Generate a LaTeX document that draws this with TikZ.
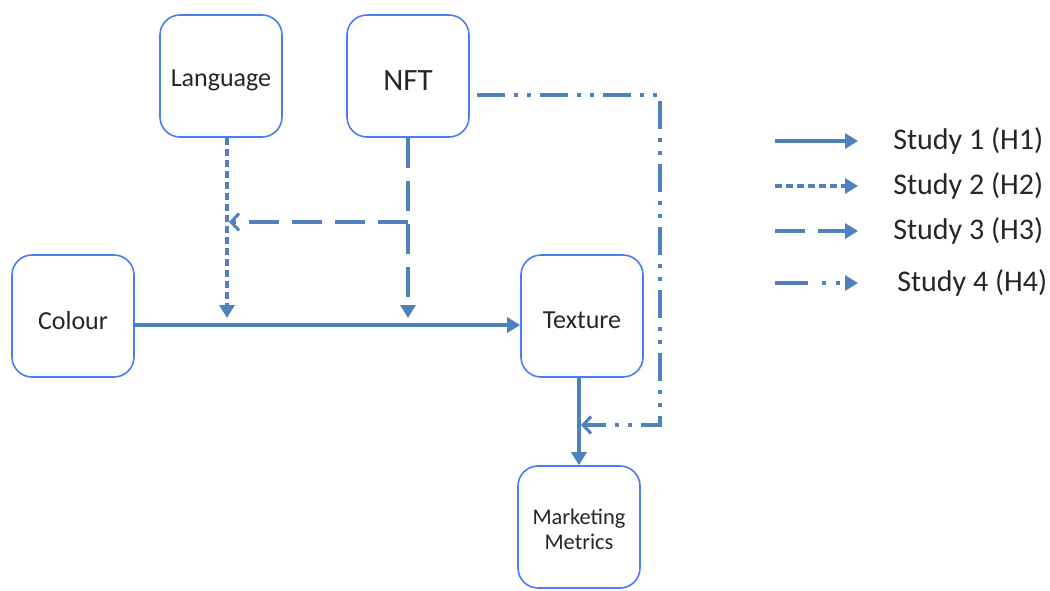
\documentclass[tikz,border=0pt]{standalone}
\usepackage{fontspec}
\setmainfont{Carlito}
\usetikzlibrary{arrows.meta,calc}
\definecolor{linkblue}{HTML}{4F81BD}
\definecolor{boxblue}{HTML}{4A7CF2}
\definecolor{inktext}{HTML}{262626}
% shift a label down without changing its reported size
\newcommand{\lowered}[1]{\raisebox{-2.2pt}[\height][\depth]{#1}}
\tikzset{
  box/.style={draw=boxblue, line width=0.8pt, rounded corners=10pt,
    minimum width=61pt, minimum height=61pt, inner sep=0pt,
    align=center, fill=white, text=inktext,
    font=\fontsize{13}{15.5}\selectfont},
  link/.style={draw=linkblue, line width=1.7pt},
  sone/.style={link},
  stwo/.style={link, dash pattern=on 3.5pt off 2pt},
  sthree/.style={link, dash pattern=on 15pt off 6.5pt},
  sfour/.style={link, dash pattern=on 14pt off 4.5pt on 2pt off 4.5pt on 2pt off 4.5pt},
  tri/.style={-{Triangle[length=6.5pt,width=7.5pt]}},
  barb/.style={-{Straight Barb[length=4pt,width=8.5pt,line width=1.5pt]}},
  legtext/.style={anchor=west, text=inktext, font=\fontsize{15}{18}\selectfont, inner sep=0pt},
}
\begin{document}
\begin{tikzpicture}[x=0.5pt,y=-0.5pt]
\useasboundingbox (0,0) rectangle (1050,590);

% variables
\node[box] (lang) at (221,76) {\lowered{Language}};
\node[box, font=\fontsize{15.5}{18}\selectfont] (nft) at (408,76) {\lowered{NFT}};
\node[box] (colour) at (73,316) {\lowered{Colour}};
\node[box] (texture) at (582,316) {\lowered{Texture}};
\node[box, font=\fontsize{11.2}{13.5}\selectfont] (metrics) at (579,527)
  {\lowered{\begin{tabular}{@{}c@{}}Marketing\\[-1pt]Metrics\end{tabular}}};

% junction points
\coordinate (hittwo) at (227,318);
\coordinate (hitthree) at (408,318);
\coordinate (fork) at (408,222);
\coordinate (langmerge) at (229,222);
\coordinate (cornerA) at (660,95);
\coordinate (cornerB) at (660,425);
\coordinate (metricsmerge) at (581,425);

% Study 1: Colour -> Texture -> Marketing Metrics
\draw[sone,tri] ($(colour.east)+(0,9)$) -- ($(texture.west)+(0,9)$);
\draw[sone,tri] (texture.south -| metrics) -- (metrics.north);

% Study 2: Language moderates
\draw[stwo,tri] (lang.south -| hittwo) -- (hittwo);

% Study 3: NFT moderates
\draw[sthree,tri] (nft.south) -- (hitthree);
\draw[sthree,barb] (fork) -- (langmerge);

% Study 4: NFT to the Texture -> Metrics path
\draw[sfour,barb] ($(nft.east |- cornerA)+(7,0)$) -- (cornerA) -- (cornerB) -- (metricsmerge);

% legend
\coordinate (kas) at (775,141); \coordinate (kae) at (858,141);
\coordinate (kbs) at (775,186); \coordinate (kbe) at (858,186);
\coordinate (kcs) at (775,231); \coordinate (kce) at (858,231);
\coordinate (kds) at (775,283); \coordinate (kde) at (858,283);
\draw[sone,tri] (kas) -- (kae);
\draw[stwo,tri] (kbs) -- (kbe);
\draw[sthree,tri] (kcs) -- (kce);
\draw[link, dash pattern=on 16.5pt off 7pt on 2pt off 5pt on 2pt off 20pt, tri] (kds) -- (kde);
\node[legtext] (la) at (893,141) {Study 1 (H1)};
\node[legtext] (lb) at (893,186) {Study 2 (H2)};
\node[legtext] (lc) at (893,231) {Study 3 (H3)};
\node[legtext] (ld) at (897,283) {Study 4 (H4)};
\end{tikzpicture}
\end{document}
